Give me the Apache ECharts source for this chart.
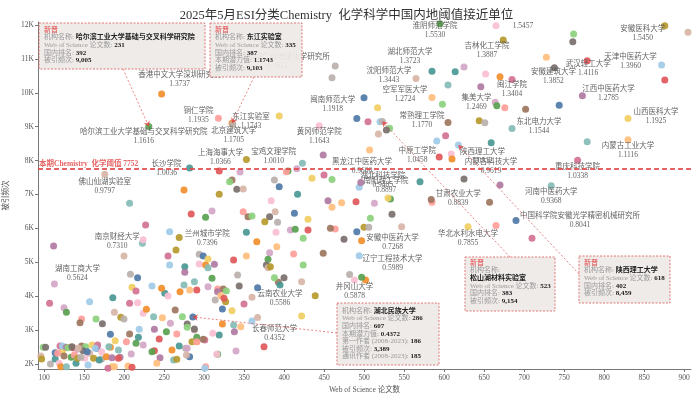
<!DOCTYPE html>
<html>
<head>
<meta charset="utf-8">
<script src="https://cdn.jsdelivr.net/npm/echarts@6/dist/echarts.min.js"></script>
<style>
  html, body { margin: 0; padding: 0; background: #fff; }
  #chart { width: 693px; height: 398px; }
</style>
</head>
<body>
<div id="chart"></div>
<script>
// ESI Chemistry threshold scatter: x = WoS papers, y = citations, potential = citations / threshold.
const THRESHOLD = 7752;
const xTicks = [100, 150, 200, 250, 300, 350, 400, 450, 500, 550, 600, 650, 700, 750, 800, 850, 900];
const yTicks = [2000, 3000, 4000, 5000, 6000, 7000, 8000, 9000, 10000, 11000, 12000];

const labeledNames = [
  '香港中文大学深圳研究院', '中国科学院广州地球化学研究所', '淮阴师范学院', '', '安徽医科大学',
  '吉林化工学院', '湖北师范大学', '沈阳师范大学', '武汉轻工大学', '天津中医药大学',
  '安徽建筑大学', '空军军医大学', '闽江学院', '集美大学', '江西中医药大学',
  '山西医科大学', '常熟理工学院', '东北电力大学', '闽南师范大学', '铜仁学院',
  '东江实验室', '北京建筑大学', '哈尔滨工业大学基础与交叉科学研究院', '黄冈师范学院', '上海海事大学',
  '宝鸡文理学院', '长沙学院', '佛山仙湖实验室', '中原工学院', '陕西理工大学',
  '内蒙古科技大学', '内蒙古工业大学', '重庆科技学院', '黑龙江中医药大学', '湖北科技学院',
  '南阳理工学院', '甘肃农业大学', '河南中医药大学', '中国科学院安徽光学精密机械研究所', '华北水利水电大学',
  '安徽中医药大学', '辽宁工程技术大学', '井冈山大学', '南京财经大学', '兰州城市学院',
  '湖南工商大学', '云南农业大学', '长春师范大学'
];
const labeledPapers = [
  247, 464, 595, 665, 876,
  625, 585, 565, 779, 872,
  738, 585, 685, 598, 773,
  830, 605, 685, 491, 318,
  335, 336, 231, 444, 353,
  416, 282, 176, 594, 618,
  625, 830, 767, 460, 496,
  530, 584, 734, 690, 665,
  497, 482, 497, 224, 269,
  113, 395, 367
];
const labeledCites = [
  9965, 10793, 12039, 11982, 11977,
  10765, 10638, 10421, 10943, 10822,
  10738, 9864, 10391, 9666, 9911,
  9244, 9124, 8949, 9239, 9252,
  9103, 9074, 9005, 9026, 8036,
  7760, 7780, 7595, 8107, 8459,
  7457, 8617, 8014, 7442, 7353,
  6897, 6852, 7262, 6233, 6089,
  5634, 4643, 4557, 5667, 5733,
  4360, 4330, 3374
];
const labeledPotential = [
  '1.3737', '1.3923', '1.5530', '1.5457', '1.5450',
  '1.3887', '1.3723', '1.3443', '1.4116', '1.3960',
  '1.3852', '1.2724', '1.3404', '1.2469', '1.2785',
  '1.1925', '1.1770', '1.1544', '1.1918', '1.1935',
  '1.1743', '1.1705', '1.1616', '1.1643', '1.0366',
  '1.0010', '1.0036', '0.9797', '1.0458', '1.0912',
  '0.9619', '1.1116', '1.0338', '0.9600', '0.9485',
  '0.8897', '0.8839', '0.9368', '0.8041', '0.7855',
  '0.7268', '0.5989', '0.5878', '0.7310', '0.7396',
  '0.5624', '0.5586', '0.4352'
];

// label nudges in pixels (label block centre relative to its point)
const labelShift = [
  [18, -14], [-58, -4], [-5, 7], [27, 0], [-22, 8],
  [23, -16], [-22, -15], [-27, -3], [1, 8], [-31, -3],
  [-1, 9], [-27, -3], [0, 9.5], [34, -2], [26, -2],
  [28, -2], [-26, -2], [27, -2], [-24, -14], [-20, -3],
  [19, -2], [1, 11], [-5, 10], [0, 11], [-26, -2],
  [-23, -12], [-23, 0], [0, 12], [-22, -1], [24, 11],
  [27, -12.5], [0, 11], [0, 11], [30, -13], [22, -2],
  [-2, -12], [27, -1], [0, 11], [64, 0], [-28, 13],
  [31, 2], [43, -11], [-7, 14], [-26, 2], [28, 1],
  [23, -10], [0, 14], [17, 16]
];

const otherPoints = [
  [762, 11735], [761, 11508], [905, 11785], [674, 11558], [460, 10446], [500, 9856], [517, 9561],
  [505, 9148], [520, 9148], [614, 10623], [652, 10555], [670, 10476], [605, 10231], [646, 10181],
  [728, 11048], [876, 10378], [664, 9720], [666, 9620], [676, 9561], [702, 9514], [532, 8953],
  [528, 8903], [518, 8785], [644, 9177], [651, 9118], [744, 9632], [394, 9316],
  [602, 8736], [591, 8579], [659, 8529], [609, 8195], [610, 8048], [779, 8558], [670, 7281],
  [472, 6759], [490, 6789], [513, 6740], [533, 6868], [585, 6769], [657, 6769], [508, 6297],
  [535, 6415], [547, 6051], [500, 6032], [506, 6032], [491, 5904], [630, 6051], [710, 5707],
  [494, 5196], [570, 7378], [488, 4478], [502, 4478],
  [423, 7920], [449, 8166], [507, 8313], [319, 7694], [345, 7664], [405, 7694], [403, 7673],
  [335, 7428], [332, 7378], [341, 7154], [349, 7163], [319, 7006], [388, 7428], [394, 7231],
  [435, 7478], [450, 7576], [494, 7213], [417, 7006], [384, 6817], [275, 7133], [207, 6741],
  [455, 6817], [460, 6623], [284, 6425], [310, 6514], [302, 6327], [349, 6493], [355, 6346],
  [360, 6366], [382, 6346], [389, 6493], [376, 6198], [392, 6180], [413, 6444], [430, 6269],
  [227, 6101], [257, 5903], [353, 5885], [390, 5885], [366, 5608], [223, 5560], [112, 5481],
  [391, 5460], [430, 5953], [408, 5953], [414, 5974], [464, 5983], [458, 6003], [424, 5708],
  [475, 5679], [200, 5186], [265, 5363], [294, 5236], [299, 5186], [305, 5098], [255, 5186],
  [257, 4920], [276, 4870], [294, 4950], [302, 4920], [305, 4841], [313, 4941], [353, 5186],
  [337, 5068], [382, 5284], [380, 5089], [412, 5245], [449, 5266], [424, 4921], [378, 4921],
  [380, 4841], [383, 4871],
  [208, 4645], [217, 4547], [210, 4262], [215, 4154], [235, 4301], [251, 4085], [255, 4006],
  [270, 4134], [275, 4331], [276, 4704], [282, 4183], [291, 4183], [305, 4281], [310, 4527],
  [317, 4213], [324, 4213], [328, 4154], [344, 4301], [360, 3967], [327, 3839], [314, 3888],
  [323, 3623], [335, 3573], [350, 3770], [360, 3269], [319, 2856], [311, 2905], [323, 3180],
  [337, 3151], [338, 2954], [346, 3101], [375, 2511], [340, 2384], [317, 2285], [302, 1921],
  [393, 4409], [388, 4547], [400, 4547], [422, 4429], [439, 4016], [342, 4626], [367, 4252],
  [422, 3416],
  [107, 3790], [157, 3839], [186, 3957], [217, 3810], [247, 4232], [288, 4429], [317, 4134],
  [321, 4016], [325, 3937], [125, 3662], [128, 3524], [147, 3328], [145, 3219], [165, 3328],
  [173, 3190], [188, 3524], [196, 3377], [200, 3328], [183, 2875], [189, 2688], [207, 3790],
  [219, 3023], [218, 2787], [224, 3495], [228, 3613], [237, 3396], [238, 3023], [248, 3367],
  [244, 2738], [258, 3200], [253, 2954], [266, 2885], [264, 3593], [273, 3396], [279, 3180],
  [288, 3003], [285, 2659], [277, 2462], [282, 2216], [291, 2659], [301, 2708], [301, 1872],
  [269, 2531], [316, 2285], [260, 2413], [262, 2118], [245, 2187], [241, 2020], [238, 2394],
  [224, 2560], [215, 2610], [203, 2659], [207, 2885],
  [99, 2492], [102, 2492], [96, 2236], [97, 2148], [108, 2000], [114, 2334], [123, 2364],
  [120, 2531], [123, 2531], [114, 2148], [119, 2020], [121, 1921], [128, 1921], [128, 2492],
  [133, 2492], [136, 2482], [142, 2433], [134, 2197], [138, 2266], [147, 2531], [152, 2511],
  [149, 2394], [157, 2315], [162, 2167], [172, 2148], [166, 2462], [185, 1921], [180, 1872],
  [155, 1970], [140, 2020], [151, 2167], [183, 2492], [193, 2413], [195, 2197], [205, 1941],
  [210, 1902], [209, 2295], [235, 2364], [117, 2315], [125, 2236], [130, 2482], [135, 2512],
  [143, 2462], [142, 2167], [146, 2197], [154, 2364], [160, 2561], [167, 2561], [164, 2462],
  [169, 2118], [172, 2364], [178, 2216], [181, 2512], [185, 2187], [188, 1921], [193, 2167],
  [279, 2463], [291, 2788], [291, 2660], [299, 2728], [279, 3083], [288, 3033], [278, 2266],
  [266, 2139]
];

// annotation boxes
const boxNames = ['哈尔滨工业大学基础与交叉科学研究院', '东江实验室', '松山湖材料实验室', '陕西理工大学', '湖北民族大学'];
const boxPapers = [231, 335, 523, 618, 286];
const boxRanks = [392, 387, 383, 402, 607];
const boxCites = [9005, 9103, 9154, 8459, 3389];
const boxPotential = [null, '1.1743', null, null, '0.4372'];
const boxFresh = [true, true, true, true, false];
const boxFirstAuthor = [null, null, null, null, 186];
const boxCorrAuthor = [null, null, null, null, 185];
const boxFrames = [[39, 23, 166, 46], [210, 23, 92, 54], [465, 257, 90, 54], [579, 256, 91, 47], [337, 303, 102, 62]];
const boxTextTop = [3.2, 3.2, 2.2, 3.2, 4.2];
const boxArrowFrom = [[123, 69], [254, 77], [510, 257], [579, 274], [337, 333]];

const SERIF = '"Liberation Serif", "Times New Roman", "Noto Sans CJK SC", serif';
const PALETTE = ['#4E79A7', '#A0CBE8', '#F28E2B', '#FFBE7D', '#59A14F', '#8CD17D', '#B6992D', '#F1CE63',
  '#499894', '#86BCB6', '#E15759', '#FF9D9A', '#79706E', '#BAB0AC', '#D37295', '#FABFD2',
  '#B07AA1', '#D4A6C8', '#9D7660', '#D7B5A6'];
const RED = '#e04848';

const fmt = (n) => n.toLocaleString('en-US');

function boxText(i) {
  const lines = [];
  if (boxFresh[i]) lines.push('{r|新晋}');
  if (i === 2) {
    lines.push('{k|机构名称:}');
    lines.push('{v|' + boxNames[i] + '}');
  } else {
    lines.push('{k|机构名称: }{v|' + boxNames[i] + '}');
  }
  lines.push('{k|Web of Science 论文数: }{v|' + boxPapers[i] + '}');
  lines.push('{k|国内排名: }{v|' + boxRanks[i] + '}');
  if (boxPotential[i]) lines.push('{k|本期潜力值: }{v|' + boxPotential[i] + '}');
  if (boxFirstAuthor[i] != null) lines.push('{k|第一作者 (2008-2023): }{v|' + boxFirstAuthor[i] + '}');
  lines.push('{k|被引频次: }{v|' + fmt(boxCites[i]) + '}');
  if (boxCorrAuthor[i] != null) lines.push('{k|通讯作者 (2008-2023): }{v|' + boxCorrAuthor[i] + '}');
  return lines.join('\n');
}

const richBase = { fontSize: 7, lineHeight: 7.6, fontFamily: SERIF };
const boxGraphics = boxNames.map((_, i) => {
  const [x, y, w, h] = boxFrames[i];
  return {
    type: 'group',
    x, y,
    children: [
      {
        type: 'rect', z: 100,
        shape: { x: 0, y: 0, width: w, height: h },
        style: { fill: 'rgba(238,234,231,0.93)', stroke: '#e06a6a', lineWidth: 0.9, lineDash: [2, 1.5] },
      },
      {
        type: 'text', z: 101, x: 5, y: boxTextTop[i],
        style: {
          text: boxText(i),
          fontSize: 7, lineHeight: 7.6, fontFamily: SERIF, fill: '#999',
          rich: {
            r: Object.assign({ fill: RED }, richBase),
            k: Object.assign({ fill: '#9a9a9a' }, richBase),
            v: Object.assign({ fill: '#222', fontWeight: 'bold' }, richBase),
          },
        },
      },
    ],
  };
});

const arrowLines = boxNames.map((_, i) => [
  { x: boxArrowFrom[i][0], y: boxArrowFrom[i][1] },
  { coord: [boxPapers[i], boxCites[i]] },
]);

// the two boxed institutions without an in-plot label still get a dot
const boxedOnly = [2, 4].map((i) => [boxPapers[i], boxCites[i]]);

const otherData = otherPoints.concat(boxedOnly)
  .map((v, i) => ({ value: v, itemStyle: { color: PALETTE[(i * 7 + 5) % 20] } }));

const labeledData = labeledNames.map((name, i) => ({
  value: [labeledPapers[i], labeledCites[i]],
  tag: name ? name + '\n' + labeledPotential[i] : labeledPotential[i],
  itemStyle: { color: PALETTE[(i * 11 + 2) % 20] },
  label: { show: true, offset: labelShift[i] },
}));

const chart = echarts.init(document.getElementById('chart'), null, { renderer: 'canvas' });

const axisText = { color: '#555', fontSize: 7.5, fontFamily: SERIF };

chart.setOption({
  animation: false,
  backgroundColor: '#fff',
  title: {
    text: '2025年5月ESI分类Chemistry  化学科学中国内地阈值接近单位',
    left: 'center', top: 4,
    textStyle: { fontSize: 12.5, fontWeight: 'normal', color: '#333', fontFamily: SERIF },
  },
  grid: { left: 38, right: 2, top: 22, bottom: 29, containLabel: false, outerBoundsMode: 'none' },
  xAxis: {
    type: 'value', min: 92.5, max: 908.75,
    name: 'Web of Science 论文数', nameLocation: 'middle', nameGap: 17,
    nameTextStyle: axisText,
    axisLine: { lineStyle: { color: '#777', width: 1 } },
    axisTick: { length: 3, lineStyle: { color: '#777' }, customValues: xTicks },
    axisLabel: Object.assign({ margin: 5, customValues: xTicks }, axisText),
    splitLine: { show: false },
  },
  yAxis: {
    type: 'value', min: 1853, max: 12089,
    name: '被引频次', nameLocation: 'middle', nameGap: 20,
    nameTextStyle: axisText,
    axisLine: { show: true, lineStyle: { color: '#777', width: 1 } },
    axisTick: { show: true, length: 3, lineStyle: { color: '#777' }, customValues: yTicks },
    axisLabel: Object.assign({ margin: 4, customValues: yTicks, formatter: (v) => v / 1000 + 'K' }, axisText),
    splitLine: { show: false },
  },
  series: [
    {
      type: 'scatter', symbolSize: 7, z: 2,
      itemStyle: { opacity: 0.92 },
      data: otherData,
      silent: true,
      markLine: {
        silent: true, symbol: ['none', 'arrow'], symbolSize: 5,
        label: { show: false },
        lineStyle: { color: RED, width: 0.8, type: [2, 2], opacity: 0.85 },
        data: arrowLines,
      },
    },
    {
      type: 'scatter', symbolSize: 7, z: 3,
      itemStyle: { opacity: 0.92 },
      data: labeledData,
      silent: true,
      label: {
        show: false, position: 'inside', formatter: (p) => p.data.tag,
        color: '#555', fontSize: 7.5, lineHeight: 9, fontFamily: SERIF,
        align: 'center', verticalAlign: 'middle',
      },
      markLine: {
        silent: true, symbol: 'none',
        lineStyle: { color: RED, width: 1.8, type: [5, 3], opacity: 0.85 },
        label: {
          position: 'insideStartTop', distance: 1,
          formatter: '本期Chemistry  化学阈值 ' + THRESHOLD,
          color: RED, fontWeight: 'bold', fontSize: 7.5, fontFamily: SERIF,
        },
        data: [{ yAxis: THRESHOLD }],
      },
    },
  ],
  graphic: boxGraphics,
});
</script>
</body>
</html>
